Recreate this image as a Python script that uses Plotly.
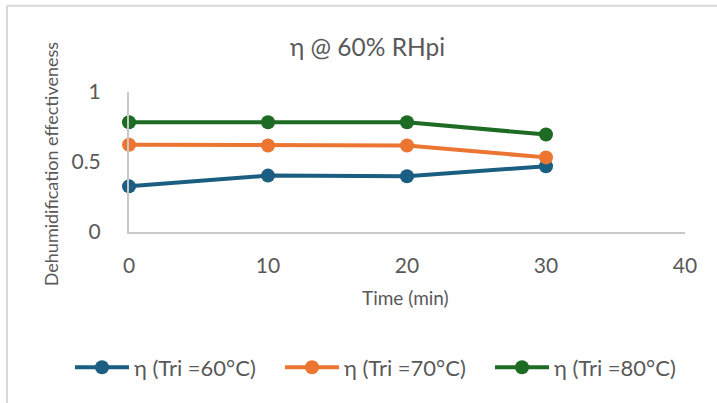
import plotly.graph_objects as go

# Dehumidification effectiveness over time at 60% inlet relative humidity
time_min = [0, 10, 20, 30]
eta_60 = [0.326, 0.403, 0.398, 0.470]
eta_70 = [0.623, 0.618, 0.618, 0.533]
eta_80 = [0.784, 0.784, 0.784, 0.696]

series_names = ["η (Tri =60°C)", "η (Tri =70°C)", "η (Tri =80°C)"]
series_colors = ["#1a5e82", "#ec7532", "#1e6b24"]

x_ticks = [0, 10, 20, 30, 40]
y_ticks = [0, 0.5, 1]
y_tick_text = ["0", "0.5", "1"]

W, H = 717, 403
L, R, T, B = 129, 32, 91.5, 171
pw, ph = W - L - R, H - T - B

def px_x(v):
    return (v - L) / pw

def px_y(v):
    return (H - B - v) / ph

FONT = "Lato, 'Open Sans', sans-serif"
TXT = "#595959"

fig = go.Figure()
for name, ys, col in zip(series_names, [eta_60, eta_70, eta_80], series_colors):
    fig.add_trace(go.Scatter(
        x=time_min, y=ys, name=name, mode="lines+markers",
        line=dict(color=col, width=4),
        marker=dict(color=col, size=14),
        cliponaxis=False,
    ))

fig.update_layout(
    width=W, height=H,
    margin=dict(l=L, r=R, t=T, b=B, pad=0),
    paper_bgcolor="white", plot_bgcolor="white",
    font=dict(family=FONT, color=TXT, size=21),
    showlegend=True,
    legend=dict(
        orientation="h", x=px_x(70), y=px_y(368), xanchor="left", yanchor="middle",
        font=dict(size=22, color=TXT), entrywidth=141, entrywidthmode="pixels",
        itemwidth=54, bgcolor="rgba(0,0,0,0)",
    ),
    xaxis=dict(
        range=[0, 40], tickvals=x_ticks, showgrid=False, zeroline=False,
        showline=True, linecolor="#c8c8c8", linewidth=2, ticks="",
        tickfont=dict(size=21, color=TXT), ticklabelstandoff=14,
    ),
    yaxis=dict(
        range=[0, 1], tickvals=y_ticks, ticktext=y_tick_text, showgrid=False,
        zeroline=False, showline=True, linecolor="#c8c8c8", linewidth=2,
        ticks="", tickfont=dict(size=21, color=TXT), ticklabelstandoff=22,
    ),
    annotations=[
        dict(text="η @ 60% RHpi", x=px_x(367), y=px_y(46), xref="paper", yref="paper",
             showarrow=False, font=dict(size=24.5, color=TXT), xanchor="center", yanchor="middle"),
        dict(text="Time (min)", x=px_x(405), y=px_y(298), xref="paper", yref="paper",
             showarrow=False, font=dict(size=19, color=TXT), xanchor="center", yanchor="middle"),
        dict(text="Dehumidification effectiveness", x=px_x(51), y=px_y(164), xref="paper",
             yref="paper", showarrow=False, textangle=-90,
             font=dict(size=18, color=TXT), xanchor="center", yanchor="middle"),
    ],
    shapes=[
        dict(type="line", xref="paper", yref="paper", x0=px_x(7), x1=px_x(W + 5),
             y0=px_y(5), y1=px_y(5), line=dict(color="#d9d9d9", width=2)),
        dict(type="line", xref="paper", yref="paper", x0=px_x(7), x1=px_x(7),
             y0=px_y(5), y1=px_y(H + 5), line=dict(color="#d9d9d9", width=2)),
    ],
)

fig.write_html("out.html")
